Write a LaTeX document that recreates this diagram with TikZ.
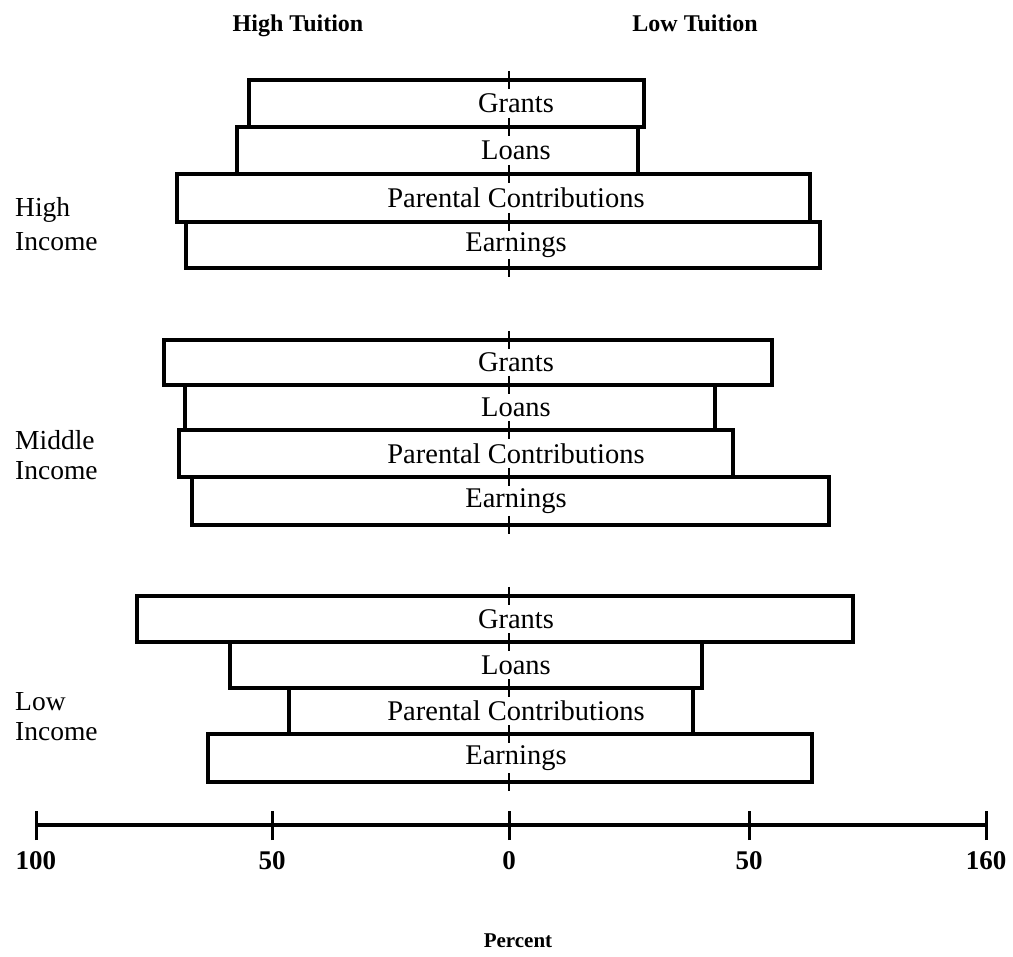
\documentclass[tikz,border=0pt]{standalone}
\usepackage{fontspec}
\setmainfont{Liberation Serif}
\usetikzlibrary{fit}
\newcommand\barbox[6]{%
  \node[barbox, fit={(#2,#3) (#4,#5)}] (#1) {};
  \node[barlabel] (#1t) at (516,{(#3+#5)/2}) {#6};
}
\begin{document}
\begin{tikzpicture}[x=1pt,y=-1pt,
  barbox/.style={draw, line width=3.2pt, inner sep=0pt},
  barlabel/.style={font=\fontsize{28.5}{30}\selectfont, inner sep=0pt},
  side/.style={font=\fontsize{27.5}{30}\selectfont, align=left, anchor=west, inner sep=0pt},
  head/.style={font=\bfseries\fontsize{24}{26}\selectfont, inner sep=0pt, anchor=base},
  ticklbl/.style={font=\bfseries\fontsize{27}{28}\selectfont, inner sep=0pt},
  cmark/.style={line width=2.8pt},
  axisline/.style={line width=3.6pt}]
\useasboundingbox (0,0) rectangle (1013,957);
% headers
\node[head] (hT) at (298,32) {High Tuition};
\node[head] (lT) at (695,32) {Low Tuition};
% High income
\barbox{hg}{249}{80}{644}{127}{Grants}
\barbox{hl}{237}{127}{638}{174}{Loans}
\barbox{hp}{177}{174}{810}{222}{Parental Contributions}
\barbox{he}{186}{222}{820}{268}{Earnings}
\node[side] (hi) at (15,224) {High\\[4pt]Income};
% Middle income
\barbox{mg}{164}{340}{772}{385}{Grants}
\barbox{ml}{185}{385}{715}{430}{Loans}
\barbox{mp}{179}{430}{733}{477}{Parental Contributions}
\barbox{me}{192}{477}{829}{525}{Earnings}
\node[side] (mi) at (15,455) {Middle\\Income};
% Low income
\barbox{lg}{137}{596}{853}{642}{Grants}
\barbox{ll}{230}{642}{702}{688}{Loans}
\barbox{lp}{289}{688}{693}{734}{Parental Contributions}
\barbox{le}{208}{734}{812}{782}{Earnings}
\node[side] (li) at (15,717) {Low\\Income};
% centre marks
\foreach \y in {80,127,174,222,268,340,385,430,477,525,596,642,688,734,782}
  \draw[cmark] (509,\y-9) -- (509,\y+9);
% axis
\coordinate (a0) at (36,825);
\coordinate (a1) at (272,825);
\coordinate (a2) at (509,825);
\coordinate (a3) at (749,825);
\coordinate (a4) at (986,825);
\draw[axisline] (a0) -- (a4);
\foreach \c in {a0,a1,a2,a3,a4}
  \draw[line width=3pt] ([yshift=-15pt]\c) -- ([yshift=14pt]\c);
\node[ticklbl] (t0) at (36,861) {100};
\node[ticklbl] (t1) at (272,861) {50};
\node[ticklbl] (t2) at (509,861) {0};
\node[ticklbl] (t3) at (749,861) {50};
\node[ticklbl] (t4) at (986,861) {160};
\node[head, font=\bfseries\fontsize{21}{24}\selectfont] (pc) at (518,947) {Percent};
\end{tikzpicture}
\end{document}
